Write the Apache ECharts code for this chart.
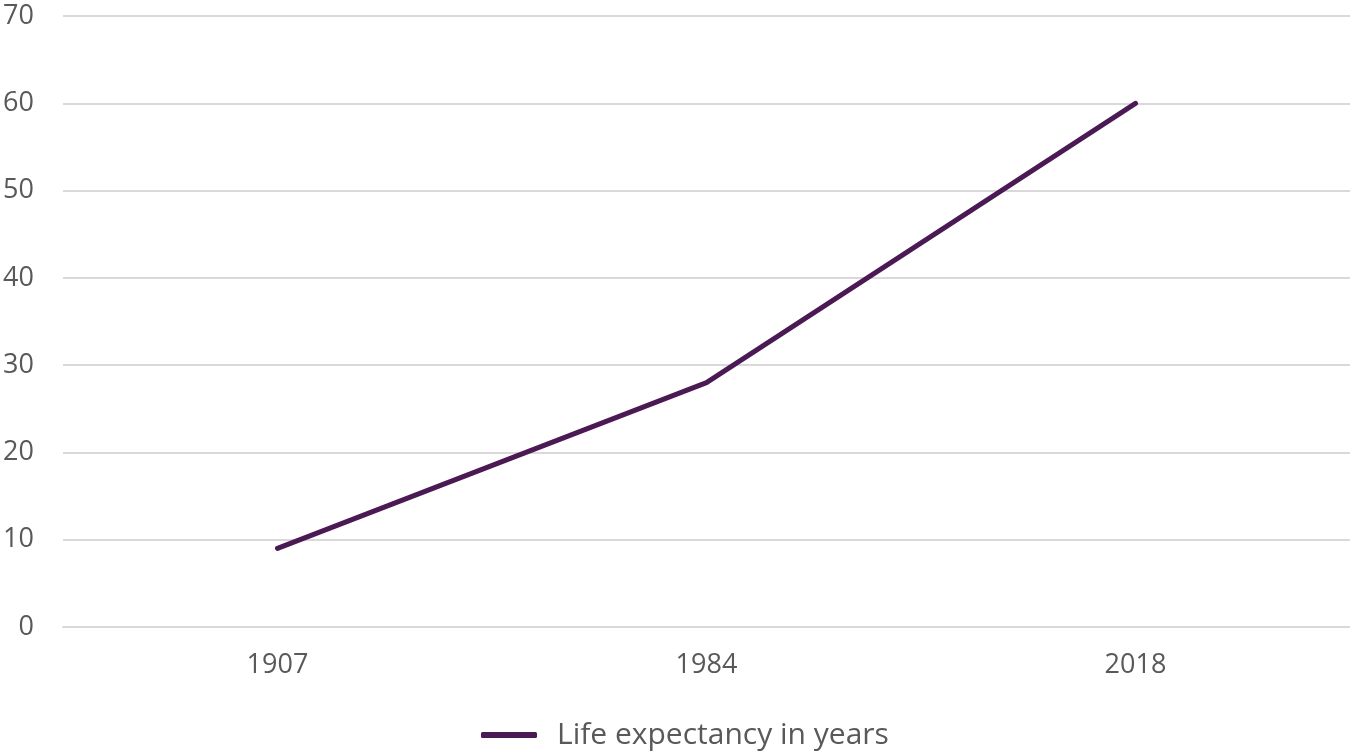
<!DOCTYPE html>
<html><head><meta charset="utf-8">
<script src="https://cdn.jsdelivr.net/npm/echarts@6/dist/echarts.min.js"></script>
<style>html,body{margin:0;padding:0;background:#fff}#c{width:1350px;height:751px}</style>
</head><body><div id="c"></div>
<script>
const categories = ['1907', '1984', '2018'];
const lifeExpectancy = [9, 28, 60];
const seriesName = 'Life expectancy in years';
const yTicks = { min: 0, max: 70, interval: 10 };

const chart = echarts.init(document.getElementById('c'));
const font = '"Open Sans", "Noto Sans", sans-serif';
chart.setOption({
  animation: false,
  grid: { left: 63, right: 0, top: 16, bottom: 124, containLabel: false },
  legend: {
    left: 476, top: 715,
    itemWidth: 56, itemHeight: 6, itemGap: 20,
    icon: 'roundRect',
    textStyle: { fontFamily: font, fontSize: 30, color: '#595959', padding: [0, 0, 0, 15] },
    data: [{ name: seriesName, icon: 'roundRect', itemStyle: { color: '#4B1A55' } }]
  },
  xAxis: {
    type: 'category', data: categories, boundaryGap: true,
    axisLine: { lineStyle: { color: '#d9d9d9', width: 2 } },
    axisTick: { show: false },
    axisLabel: { fontFamily: font, fontSize: 27, color: '#595959', margin: 25 }
  },
  yAxis: {
    type: 'value', min: yTicks.min, max: yTicks.max, interval: yTicks.interval,
    axisLine: { show: false }, axisTick: { show: false },
    splitLine: { lineStyle: { color: '#d9d9d9', width: 2 } },
    axisLabel: { fontFamily: font, fontSize: 27, color: '#595959', margin: 29 }
  },
  series: [{
    name: seriesName, type: 'line', data: lifeExpectancy,
    symbol: 'none', lineStyle: { color: '#4B1A55', width: 5, cap: 'round', join: 'round' },
    itemStyle: { color: '#4B1A55' }
  }]
});
</script></body></html>
